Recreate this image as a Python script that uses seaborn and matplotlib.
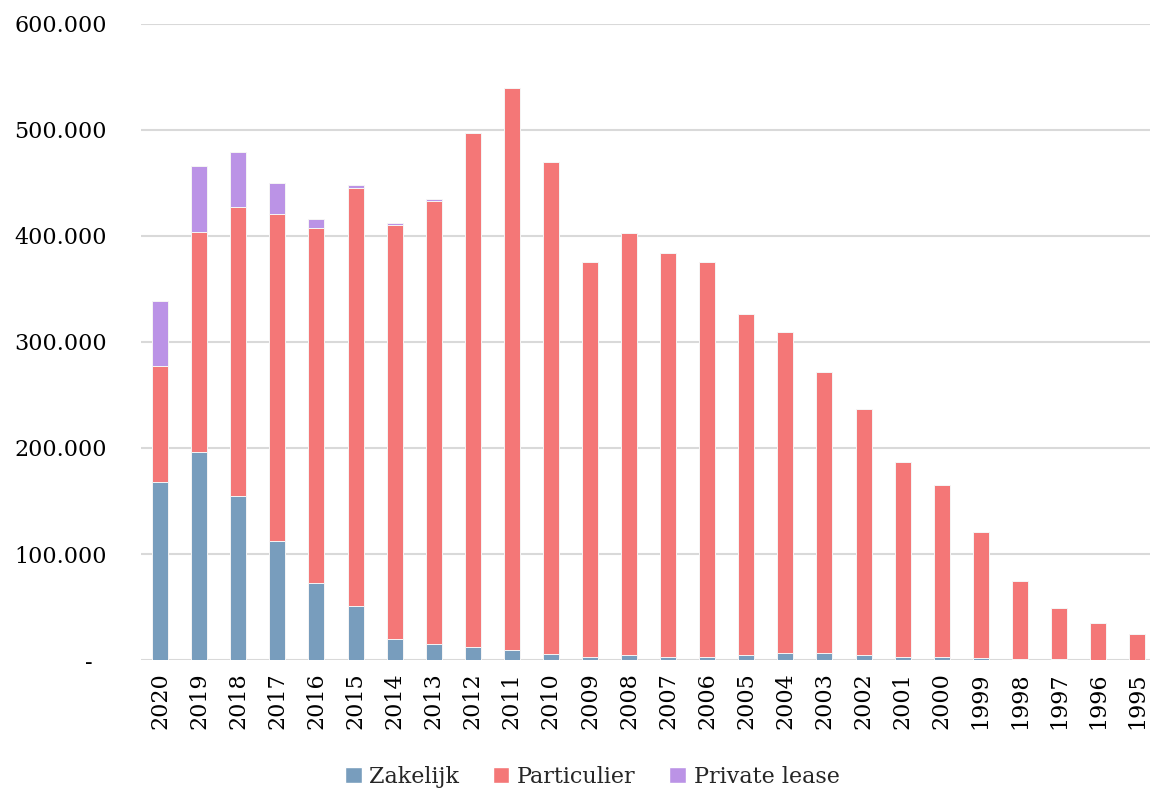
import pandas as pd
import matplotlib.pyplot as plt
import seaborn as sns
from matplotlib.patches import Patch
from matplotlib.ticker import FuncFormatter

# Jaren en registraties per type
years = [2020, 2019, 2018, 2017, 2016, 2015, 2014, 2013, 2012, 2011, 2010,
         2009, 2008, 2007, 2006, 2005, 2004, 2003, 2002, 2001, 2000,
         1999, 1998, 1997, 1996, 1995]
zakelijk = [168000, 196500, 155000, 112000, 73000, 51000, 19500, 14800, 12500, 9200, 5700,
            3100, 4400, 3100, 3100, 5000, 6300, 6300, 4700, 3100, 2800,
            1600, 600, 500, 300, 200]
totaal_excl_lease = [277000, 404000, 427500, 421000, 408000, 445500, 410700, 433000, 497000, 540000, 470000,
                     375000, 403000, 384000, 375000, 326000, 309000, 272000, 237000, 187000, 165000,
                     121000, 74500, 49000, 35000, 24500]
particulier = [t - z for t, z in zip(totaal_excl_lease, zakelijk)]
private_lease = [62000, 62000, 52000, 29000, 8000, 2500, 1500, 1500, 0, 0, 0,
                 0, 0, 0, 0, 0, 0, 0, 0, 0, 0,
                 0, 0, 0, 0, 0]

series_names = ['Zakelijk', 'Particulier', 'Private lease']
colors = ['#789dbd', '#f47777', '#bb93e6']

df = pd.DataFrame({
    'jaar': [str(y) for y in years],
    'Zakelijk': zakelijk,
    'Particulier': particulier,
    'Private lease': private_lease,
})

sns.set_theme(style='white')
plt.rcParams['font.family'] = ['DejaVu Serif']

fig = plt.figure(figsize=(11.5, 7.91), dpi=100)
ax = fig.add_axes([0.1226, 0.1656, 0.8774, 0.8041])

order = df['jaar'].tolist()
bottom = pd.Series([0] * len(df))
for name, color in zip(series_names, colors):
    sns.barplot(data=df, x='jaar', y=name, order=order, color=color,
                width=0.41, bottom=bottom.values, edgecolor='#f5f5f5',
                linewidth=0.7, saturation=1, ax=ax)
    bottom = bottom + df[name]

ax.set_ylim(0, 600000)
ax.set_xlim(-0.49, 25.33)
ax.set_yticks(range(0, 600001, 100000))
ax.yaxis.set_major_formatter(FuncFormatter(
    lambda v, p: '-  ' if v == 0 else f'{int(v):,}'.replace(',', '.')))
ax.grid(axis='y', color='#d9d9d9', linewidth=1.5)
ax.set_axisbelow(True)
for s in ax.spines.values():
    s.set_visible(False)
ax.set_xlabel('')
ax.set_ylabel('')
ax.tick_params(axis='y', length=0, pad=24.5, labelsize=16, labelcolor='#000000')
ax.tick_params(axis='x', length=0, pad=9, labelsize=16, labelcolor='#000000', rotation=90)

handles = [Patch(facecolor=c, label=n) for n, c in zip(series_names, colors)]
fig.legend(handles=handles, loc='lower center', bbox_to_anchor=(0.515, -0.021),
           ncol=3, frameon=False, fontsize=16, handlelength=0.75, handleheight=0.75,
           handletextpad=0.35, columnspacing=1.5)

plt.savefig('out.png', dpi=100)
plt.close()
